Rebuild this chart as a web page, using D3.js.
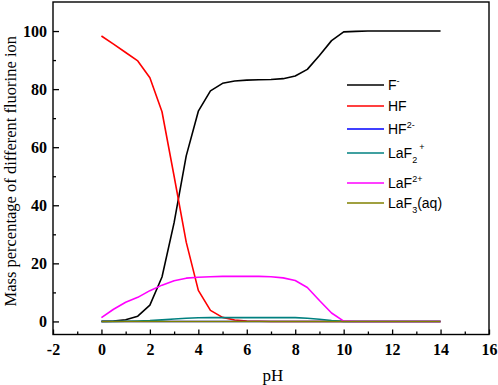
<!DOCTYPE html>
<html><head><meta charset="utf-8">
<script src="https://cdn.jsdelivr.net/npm/d3@7"></script>
<style>body{margin:0;background:#fff}svg{display:block}
.tick text{font-family:'Liberation Serif','Times New Roman',serif !important;font-weight:bold;font-size:16px;fill:#000}
</style>
</head><body>
<svg id="c" width="498" height="385"></svg>
<script>
const pH = [0,0.5,1,1.5,2,2.5,3,3.5,4,4.5,5,5.5,6,6.5,7,7.5,8,8.5,9,9.5,10,10.5,11,11.5,12,12.5,13,13.5,14];
const F_minus = [0.02,0.1,0.6,1.8,5.6,15.3,34,57,72.4,79.4,82,82.8,83.1,83.2,83.3,83.6,84.5,86.8,91.6,96.7,99.7,99.9,100,100,100,100,100,100,100];
const HF = [98.3,95.5,92.6,89.7,83.9,72.2,50,27.3,10.7,3.8,1.4,0.5,0.15,0.05,0,0,0,0,0,0,0,0,0,0,0,0,0,0,0];
const HF2 = [0,0,0,0,0,0,0,0,0,0,0,0,0,0,0,0,0,0,0,0,0,0,0,0,0,0,0,0,0];
const LaF2p = [0,0.02,0.05,0.15,0.3,0.55,0.85,1.1,1.25,1.3,1.3,1.3,1.3,1.3,1.3,1.3,1.3,1.1,0.75,0.3,0.02,0,0,0,0,0,0,0,0];
const LaF2pp = [1.3,4.2,6.6,8.3,10.6,12.5,14.0,14.9,15.2,15.4,15.5,15.5,15.5,15.5,15.4,15.0,14.1,11.7,7.2,2.9,0.1,0,0,0,0,0,0,0,0];
const LaF3 = [0,0,0,0,0,0,0,0,0,0,0,0,0,0,0,0,0,0,0,0,0,0,0,0,0,0,0,0,0];
const xTicks = [-2,0,2,4,6,8,10,12,14,16];
const yTicks = [0,20,40,60,80,100];

const series = [
  {name:"F", values:F_minus, color:"#000000"},
  {name:"HF", values:HF, color:"#ff0000"},
  {name:"HF2", values:HF2, color:"#0000ff"},
  {name:"LaF2+", values:LaF2p, color:"#008080"},
  {name:"LaF2++", values:LaF2pp, color:"#ff00ff"},
  {name:"LaF3", values:LaF3, color:"#808000"}
];

const svg = d3.select("#c");
const L=53, R=489, T=2, B=334.5;
const x = d3.scaleLinear().domain([-2,16]).range([L,R]);
const y = d3.scaleLinear().domain([-4.5,110]).range([B,T]);

const serif = "'Liberation Serif','Times New Roman',serif";
const sans = "'Liberation Sans',Arial,sans-serif";

// lines
const line = d3.line().x((d,i)=>x(pH[i])).y(d=>y(d));
series.forEach(s=>{
  svg.append("path").attr("d", line(s.values)).attr("fill","none")
    .attr("stroke", s.color).attr("stroke-width",1.6).attr("stroke-linejoin","round");
});

// axes (inward ticks)
const fmt = d => String(d);
const xAxis = d3.axisBottom(x).tickValues(xTicks).tickSize(-5).tickPadding(9).tickFormat(fmt);
svg.append("g").attr("transform",`translate(0,${B})`).call(xAxis);
const xMinor = d3.axisBottom(x).tickValues(d3.range(-1,16,2)).tickSize(-3).tickFormat("");
svg.append("g").attr("transform",`translate(0,${B})`).call(xMinor).select(".domain").remove();

const yAxis = d3.axisLeft(y).tickValues(yTicks).tickSize(-6).tickPadding(6).tickFormat(fmt);
svg.append("g").attr("transform",`translate(${L},0)`).call(yAxis);
const yMinor = d3.axisLeft(y).tickValues([10,30,50,70,90]).tickSize(-3).tickFormat("");
svg.append("g").attr("transform",`translate(${L},0)`).call(yMinor).select(".domain").remove();

svg.selectAll(".domain").remove();
svg.selectAll(".tick line").attr("stroke","#000").attr("stroke-width",1.3);

// frame
svg.append("rect").attr("x",L).attr("y",T).attr("width",R-L).attr("height",B-T)
  .attr("fill","none").attr("stroke","#000").attr("stroke-width",1.4);

// axis titles
svg.append("text").attr("x",(L+R)/2+2).attr("y",381).attr("text-anchor","middle")
  .attr("font-family",serif).attr("font-size",17).text("pH");
svg.append("text").attr("transform",`translate(16,${(T+B)/2+3}) rotate(-90)`).attr("text-anchor","middle")
  .attr("font-family",serif).attr("font-size",16.5).text("Mass percentage of different fluorine ion");

// legend
const legY = [85,106,129,153,183,203];
const lx1=347, lx2=384, tx=388;
const leg = svg.append("g").attr("font-family",sans).attr("font-size",14);
series.forEach((s,i)=>{
  leg.append("line").attr("x1",lx1).attr("x2",lx2).attr("y1",legY[i]).attr("y2",legY[i])
    .attr("stroke",s.color).attr("stroke-width",1.6);
});
function lab(i, parts){
  const t = leg.append("text").attr("x",tx).attr("y",legY[i]+5);
  parts.forEach(p=>{
    const ts = t.append("tspan").text(p.t);
    if(p.fs) ts.attr("font-size",p.fs);
    if(p.dy!==undefined) ts.attr("dy",p.dy);
    if(p.dx!==undefined) ts.attr("dx",p.dx);
  });
}
lab(0,[{t:"F"},{t:"-",fs:9,dy:-6}]);
lab(1,[{t:"HF"}]);
lab(2,[{t:"HF"},{t:"2-",fs:9,dy:-6}]);
lab(3,[{t:"LaF"},{t:"2",fs:9,dy:5},{t:"+",fs:9,dy:-13,dx:2}]);
lab(4,[{t:"LaF"},{t:"2+",fs:9,dy:-6}]);
lab(5,[{t:"LaF"},{t:"3",fs:9,dy:5},{t:"(aq)",fs:14,dy:-5}]);
</script>
</body></html>
